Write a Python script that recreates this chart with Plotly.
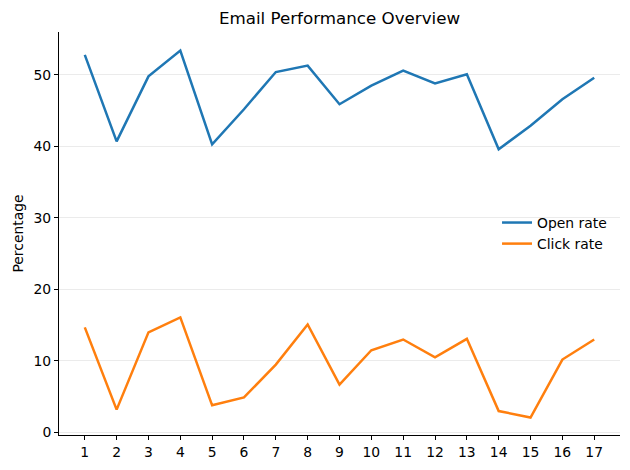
import plotly.graph_objects as go

campaigns = list(range(1, 18))
open_rate = [52.8, 40.7, 49.8, 53.4, 40.3, 45.2, 50.4, 51.3, 45.9, 48.5, 50.6, 48.8, 50.1, 39.6, 42.9, 46.6, 49.6]
click_rate = [14.7, 3.2, 14.0, 16.1, 3.8, 4.9, 9.5, 15.1, 6.7, 11.5, 13.0, 10.5, 13.1, 3.0, 2.1, 10.2, 13.0]
tick_labels = [str(c) for c in campaigns]

fig = go.Figure()
fig.add_trace(go.Scatter(x=campaigns, y=open_rate, mode="lines", name="Open rate",
                         line=dict(color="#1f77b4", width=2.5)))
fig.add_trace(go.Scatter(x=campaigns, y=click_rate, mode="lines", name="Click rate",
                         line=dict(color="#ff7f0e", width=2.5)))

fig.update_layout(
    width=622, height=462,
    margin=dict(l=49, r=10, t=24, b=34),
    paper_bgcolor="white", plot_bgcolor="white",
    font=dict(family="DejaVu Sans", size=13.9, color="black"),
    title=dict(text="Email Performance Overview", x=0.5, xref="paper", xanchor="center",
               y=1 - 10 / 462, yref="container", yanchor="middle",
               font=dict(size=16.7, color="black")),
    legend=dict(x=1.0 - 8 / 563, xanchor="right", y=0.5, yanchor="middle", bgcolor="rgba(0,0,0,0)",
                font=dict(size=13.9), itemwidth=30),
    showlegend=True,
)
fig.update_xaxes(range=[0.19, 17.81], tickmode="array", tickvals=campaigns, ticktext=tick_labels,
                 showgrid=False, showline=True, linecolor="black", linewidth=1,
                 ticks="outside", ticklen=4, tickcolor="black", zeroline=False,
                 tickfont=dict(size=13.9))
fig.update_yaxes(range=[-0.35, 56], tickvals=[0, 10, 20, 30, 40, 50],
                 showgrid=True, gridcolor="#ebebeb", gridwidth=1,
                 showline=True, linecolor="black", linewidth=1,
                 ticks="outside", ticklen=4, tickcolor="black", zeroline=False,
                 title=dict(text="Percentage", font=dict(size=13.9), standoff=6),
                 tickfont=dict(size=13.9))

fig.write_html("out.html")
